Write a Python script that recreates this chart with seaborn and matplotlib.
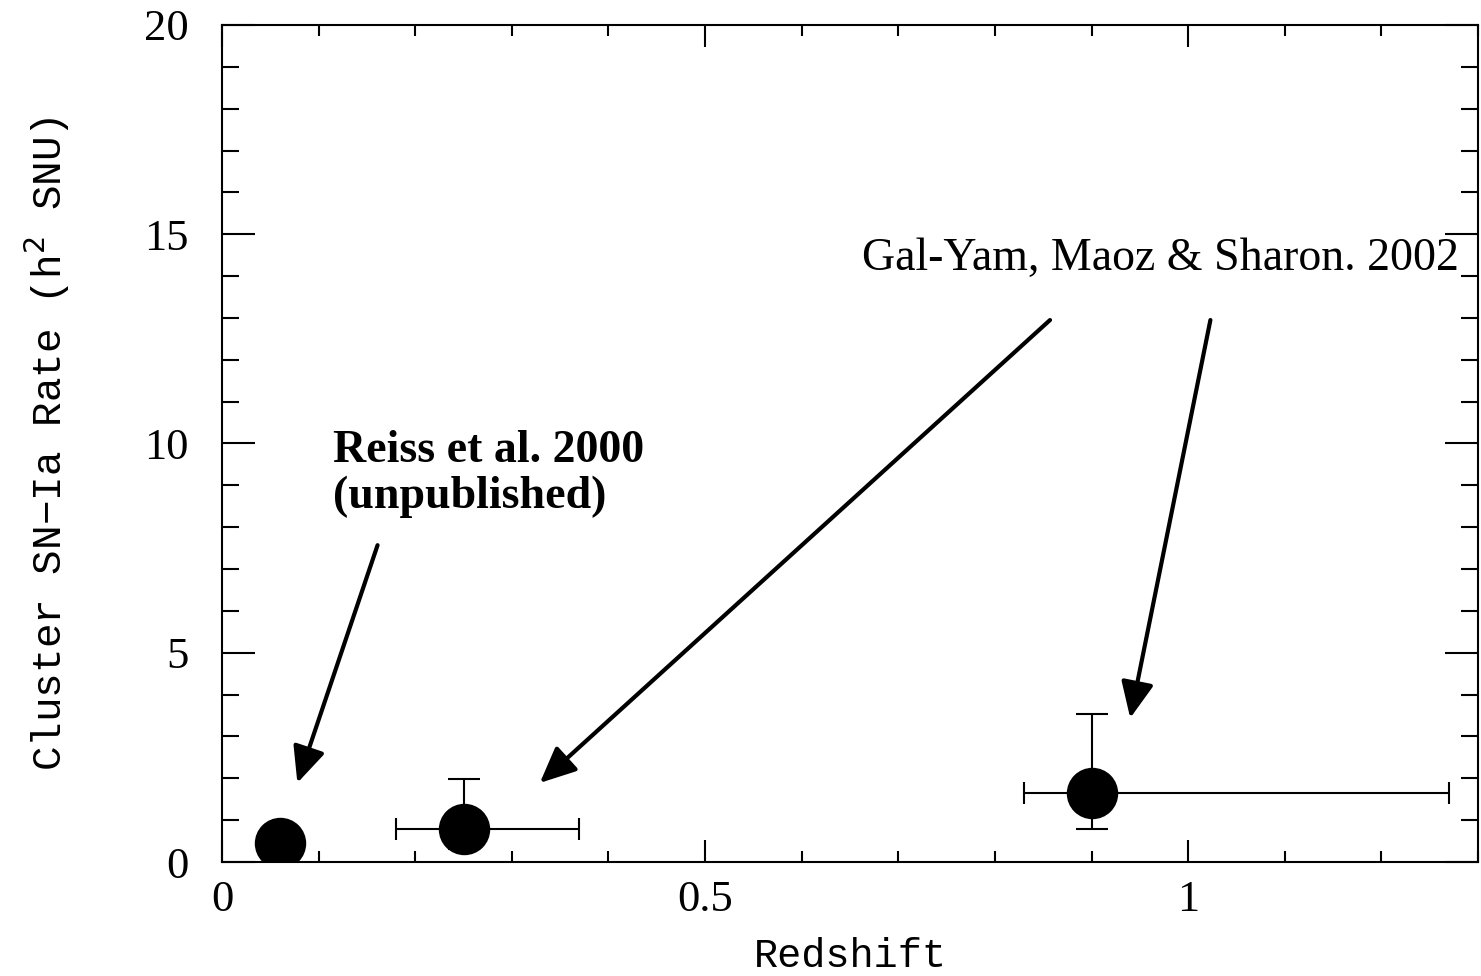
import numpy as np
import seaborn as sns
import matplotlib.pyplot as plt
import pandas as pd
from matplotlib.ticker import MultipleLocator

# data
redshift = [0.06, 0.25, 0.90]
rate = [0.45, 0.79, 1.65]
# only the two cluster samples carry error bars
err_z = [0.25, 0.90]
err_rate = [0.79, 1.65]
z_lo = [0.07, 0.07]
z_hi = [0.12, 0.37]
rate_lo = [0.48, 0.86]
rate_hi = [1.19, 1.89]

df = pd.DataFrame({"Redshift": redshift, "Rate": rate})

sns.set_style("ticks")
plt.rcParams['font.family'] = ['Liberation Serif']
plt.rcParams['text.color'] = 'black'
plt.rcParams['axes.labelcolor'] = 'black'
plt.rcParams['xtick.color'] = 'black'
plt.rcParams['ytick.color'] = 'black'

fig = plt.figure(figsize=(14.81, 9.76), dpi=100)
ax = fig.add_axes([0.1499, 0.1168, 0.8481, 0.8576])

# error bars: x caps are short, y caps are wider
ax.errorbar(err_z, err_rate, xerr=[z_lo, z_hi], fmt='none', ecolor='black',
            elinewidth=1.5, capsize=8, capthick=1.5, zorder=2)
ax.errorbar(err_z, err_rate, yerr=[rate_lo, rate_hi], fmt='none', ecolor='black',
            elinewidth=1.5, capsize=11.5, capthick=1.5, zorder=4)
sns.scatterplot(data=df, x="Redshift", y="Rate", ax=ax, color='black',
                s=1370, edgecolor='black', linewidth=0, zorder=3, legend=False)

ax.set_xlim(0, 1.3)
ax.set_ylim(0, 20)
ax.xaxis.set_major_locator(MultipleLocator(0.5))
ax.xaxis.set_minor_locator(MultipleLocator(0.1))
ax.yaxis.set_major_locator(MultipleLocator(5))
ax.yaxis.set_minor_locator(MultipleLocator(1))
ax.set_xticks([0, 0.5, 1])
ax.set_xticklabels(['0', '0.5', '1'])
ax.set_yticks([0, 5, 10, 15, 20])
ax.set_yticklabels(['0', '5', '10', '15', '20'])

for s in ax.spines.values():
    s.set_linewidth(1.5)
    s.set_color('black')
ax.tick_params(which='both', direction='in', top=True, right=True, width=1.5, color='black')
ax.tick_params(axis='x', which='major', length=16, pad=13, labelsize=32)
ax.tick_params(axis='x', which='minor', length=8)
ax.tick_params(axis='y', which='major', length=24, pad=24, labelsize=32)
ax.tick_params(axis='y', which='minor', length=12)

ax.set_xlabel("Redshift", family='Liberation Mono', fontsize=29, labelpad=12)
ax.set_ylabel("Cluster SN\u2212Ia Rate (h$^{2}$ SNU)", family='Liberation Mono',
              fontsize=29.5, labelpad=52)

arrow = dict(arrowstyle='-|>,head_length=0.55,head_width=0.25', color='black', lw=3,
             mutation_scale=40, shrinkA=0, shrinkB=0)
ax.annotate("", xy=(0.078, 1.89), xytext=(0.161, 7.57), arrowprops=arrow)
ax.annotate("", xy=(0.329, 1.89), xytext=(0.857, 12.95), arrowprops=arrow)
ax.annotate("", xy=(0.940, 3.44), xytext=(1.023, 12.95), arrowprops=arrow)

ax.text(0.115, 8.45, "Reiss et al. 2000\n(unpublished)", family='Liberation Serif',
        fontsize=33, fontweight='bold', va='baseline', ha='left', linespacing=1.12)
ax.text(0.6625, 14.15, "Gal-Yam, Maoz & Sharon. 2002", family='Liberation Serif',
        fontsize=33, va='baseline', ha='left')

fig.savefig("out.png", dpi=100)
